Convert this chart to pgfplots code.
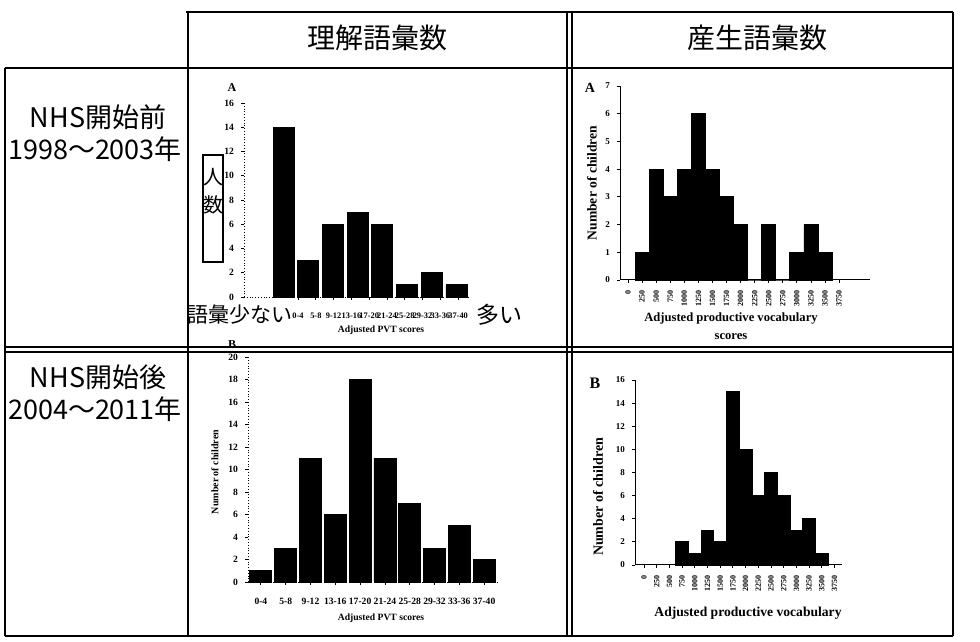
\documentclass[border=0pt]{standalone}
\usepackage{fontspec}
\setmainfont{Liberation Serif}
\newfontfamily\jp{Noto Sans CJK JP}
\usepackage{pgfplots}
\pgfplotsset{compat=1.18}
\pgfplotsset{
  hist/.style={scale only axis, anchor=south west,
    /pgf/number format/assume math mode=true,
    /pgf/number format/1000 sep={},
    axis x line=bottom, axis y line=left,
    tick align=outside, major tick length=1.5pt,
    tick style={black, line width=0.4pt},
    clip=false},
}
\begin{document}
\begin{tikzpicture}
\useasboundingbox (0,0) rectangle (490pt,321pt);
\begin{scope}[x=0.5pt,y=-0.5pt,yshift=321pt]
  \begin{scope}[line width=0.8pt]
    \draw (186,12) -- (953,12);
    \draw (5,68) -- (953,68);
    \draw (5,347) -- (953,347);
    \draw (5,352) -- (953,352);
    \draw (5,636) -- (953,636);
    \draw (5,68) -- (5,636);
    \draw (188,12) -- (188,636);
    \draw (567,12) -- (567,636);
    \draw (572,12) -- (572,636);
    \draw (953,12) -- (953,636);
    \draw (203,155) rectangle (223,262);
  \end{scope}
  \node[font=\jp\fontsize{14}{16}\selectfont] at (377,38) {理解語彙数};
  \node[font=\jp\fontsize{14}{16}\selectfont] at (757,38) {産生語彙数};
  \node[font=\jp\fontsize{13.5}{16}\selectfont] at (98,117) {NHS開始前};
  \node[font=\jp\fontsize{13.5}{16}\selectfont] at (95,149) {1998～2003年};
  \node[font=\jp\fontsize{13.5}{16}\selectfont] at (98,377) {NHS開始後};
  \node[font=\jp\fontsize{13.5}{16}\selectfont] at (95,409) {2004～2011年};
  \node[font=\jp\fontsize{10}{11}\selectfont] at (213,177) {人};
  \node[font=\jp\fontsize{10}{11}\selectfont] at (213,205) {数};
  \node[font=\jp\fontsize{10.5}{12}\selectfont] at (240,315) {語彙少ない};
  \node[font=\jp\fontsize{11.5}{13}\selectfont] at (499,315) {多い};
  \node[font=\fontsize{6}{7}\selectfont\bfseries] at (232,88) {A};
  \node[font=\fontsize{6}{7}\selectfont\bfseries] at (232,345) {B};
  \node[font=\fontsize{7}{8}\selectfont\bfseries] at (590,88) {A};
  \node[font=\fontsize{8}{9}\selectfont\bfseries] at (595,383) {B};
\end{scope}

% Chart A: receptive vocabulary, before
\begin{axis}[hist, at={(122pt,172.5pt)}, width=113pt, height=97pt,
  xmin=-1.6, xmax=7.55, ymin=0, ymax=16, ytick={0,2,...,16},
  axis line style={densely dotted, line width=0.4pt, -},
  xtick={0.59,1.31,2.03,2.75,3.47,4.19,4.91,5.63,6.35,7.07},
  xticklabels={0-4,5-8,9-12,13-16,17-20,21-24,25-28,29-32,33-36,37-40},
  xticklabel style={font=\fontsize{4.2}{5}\selectfont\bfseries, yshift=-3pt},
  yticklabel style={font=\fontsize{4.8}{5}\selectfont\bfseries},
  xlabel={Adjusted PVT scores},
  xlabel style={font=\fontsize{4.8}{5}\selectfont\bfseries, at={(axis description cs:0.606,-0.17)}, anchor=center}]
  \addplot[ybar, bar width=10.5pt, bar shift=0pt, fill=black, draw=black]
    coordinates {(0,14)(1,3)(2,6)(3,7)(4,6)(5,1)(6,2)(7,1)};
\end{axis}

% Chart B: receptive vocabulary, after
\begin{axis}[hist, at={(124pt,30pt)}, width=126pt, height=112.5pt,
  xmin=-0.52, xmax=9.64, ymin=0, ymax=20, ytick={0,2,...,20},
  axis line style={densely dotted, line width=0.4pt, -},
  xtick={0,...,9},
  xticklabels={0-4,5-8,9-12,13-16,17-20,21-24,25-28,29-32,33-36,37-40},
  xticklabel style={font=\fontsize{4.8}{5}\selectfont\bfseries, yshift=-3pt},
  yticklabel style={font=\fontsize{4.8}{5}\selectfont\bfseries},
  ylabel={Number of children},
  ylabel style={font=\fontsize{5}{6}\selectfont\bfseries, at={(axis description cs:-0.131,0.489)}, anchor=center},
  xlabel={Adjusted PVT scores},
  xlabel style={font=\fontsize{4.8}{5}\selectfont\bfseries, at={(axis description cs:0.528,-0.16)}, anchor=center}]
  \addplot[ybar, bar width=11pt, bar shift=0pt, fill=black, draw=black]
    coordinates {(0,1)(1,3)(2,11)(3,6)(4,18)(5,11)(6,7)(7,3)(8,5)(9,2)};
\end{axis}

% Chart C: productive vocabulary, before
\begin{axis}[hist, at={(310pt,181pt)}, width=125pt, height=97pt,
  xmin=-143, xmax=4300, ymin=0, ymax=7, ytick={0,...,7},
  axis line style={line width=0.5pt, -},
  xtick={0,250,...,3750},
  xticklabel style={font=\fontsize{4}{5}\selectfont\bfseries, rotate=90, anchor=east},
  yticklabel style={font=\fontsize{4.5}{5}\selectfont\bfseries},
  ylabel={Number of children},
  ylabel style={font=\fontsize{6.8}{8}\selectfont\bfseries, at={(axis description cs:-0.112,0.5)}, anchor=center},
  xlabel={Adjusted productive vocabulary\\scores},
  xlabel style={font=\fontsize{6.3}{9}\selectfont\bfseries, align=center, at={(axis description cs:0.444,-0.237)}, anchor=center}]
  \addplot[ybar, bar width=7pt, bar shift=0pt, fill=black, draw=black]
    coordinates {(250,1)(500,4)(750,3)(1000,4)(1250,6)(1500,4)(1750,3)(2000,2)(2250,0)(2500,2)(2750,0)(3000,1)(3250,2)(3500,1)};
\end{axis}

% Chart D: productive vocabulary, after
\begin{axis}[hist, at={(317.5pt,38.5pt)}, width=103.5pt, height=92.5pt,
  xmin=-177, xmax=3898, ymin=0, ymax=16, ytick={0,2,...,16},
  axis line style={line width=0.5pt, -},
  xtick={0,250,...,3750},
  xticklabel style={font=\fontsize{4}{5}\selectfont\bfseries, rotate=90, anchor=east},
  yticklabel style={font=\fontsize{4.5}{5}\selectfont\bfseries},
  ylabel={Number of children},
  ylabel style={font=\fontsize{7}{8}\selectfont\bfseries, at={(axis description cs:-0.179,0.368)}, anchor=center},
  xlabel={Adjusted productive vocabulary},
  xlabel style={font=\fontsize{6.8}{8}\selectfont\bfseries, at={(axis description cs:0.546,-0.26)}, anchor=center}]
  \addplot[ybar, bar width=6.35pt, bar shift=0pt, fill=black, draw=black]
    coordinates {(750,2)(1000,1)(1250,3)(1500,2)(1750,15)(2000,10)(2250,6)(2500,8)(2750,6)(3000,3)(3250,4)(3500,1)};
\end{axis}
\end{tikzpicture}
\end{document}
